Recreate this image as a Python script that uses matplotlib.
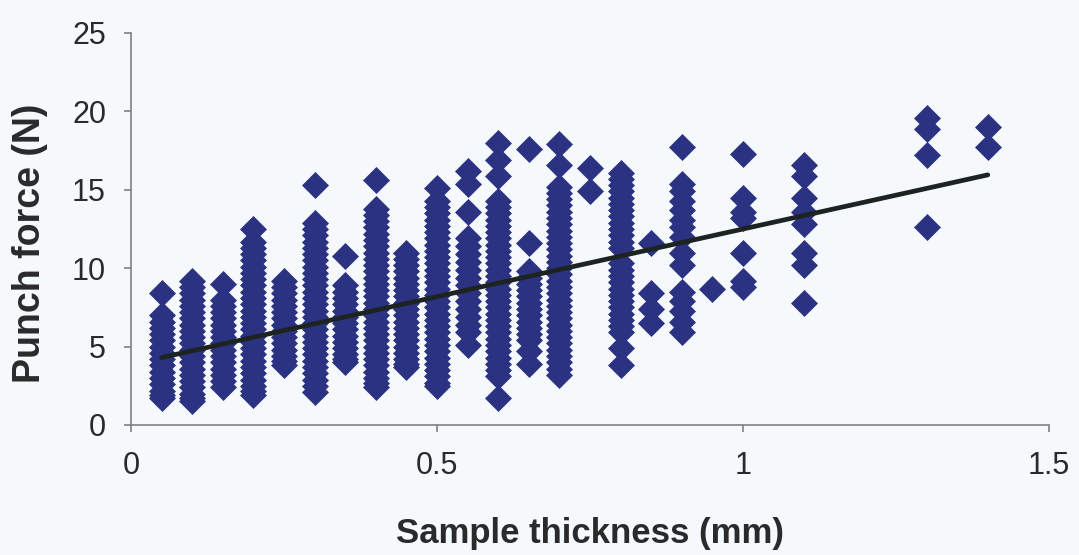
import numpy as np
import matplotlib
matplotlib.use("Agg")
import matplotlib.pyplot as plt

# Punch force readings (N) grouped by sample thickness (mm)
thickness_mm = [0.05, 0.10, 0.15, 0.20, 0.25, 0.30, 0.35, 0.40, 0.45, 0.50,
                0.55, 0.60, 0.65, 0.70, 0.75, 0.80, 0.85, 0.90, 0.95, 1.00,
                1.10, 1.30, 1.40]

f_005 = [8.4, 7.0, 6.6, 6.2, 5.8, 5.4, 5.0, 4.6, 4.2, 3.8, 3.4, 3.0, 2.6, 2.2, 1.9, 1.7]
f_010 = [9.2, 8.8, 8.4, 8.0, 7.6, 7.2, 6.8, 6.4, 6.0, 5.6, 5.2, 4.8, 4.4, 4.0, 3.6, 3.2,
         2.8, 2.4, 2.0, 1.7, 1.5]
f_015 = [9.0, 8.0, 7.6, 7.2, 6.8, 6.4, 6.0, 5.6, 5.2, 4.8, 4.4, 4.0, 3.6, 3.2, 2.8, 2.4]
f_020 = [12.5, 11.7, 11.3, 10.9, 10.5, 10.1, 9.7, 9.3, 8.9, 8.5, 8.1, 7.7, 7.3, 6.9, 6.5,
         6.1, 5.7, 5.3, 4.9, 4.5, 4.1, 3.7, 3.3, 2.9, 2.5, 2.2, 1.9]
f_025 = [9.2, 8.8, 8.4, 8.0, 7.6, 7.2, 6.8, 6.4, 6.0, 5.6, 5.2, 4.8, 4.4, 4.1, 3.8]
f_030 = [15.3, 12.9, 12.5, 12.1, 11.7, 11.3, 10.9, 10.5, 10.1, 9.7, 9.3, 8.9, 8.5, 8.1,
         7.7, 7.3, 6.9, 6.5, 6.1, 5.7, 5.3, 4.9, 4.5, 4.1, 3.7, 3.3, 2.9, 2.5, 2.1]
f_035 = [10.8, 8.9, 8.5, 8.1, 7.7, 7.3, 6.9, 6.5, 6.1, 5.7, 5.3, 4.9, 4.5, 4.2, 4.0]
f_040 = [15.6, 13.8, 13.4, 13.0, 12.6, 12.2, 11.8, 11.4, 11.0, 10.6, 10.2, 9.8, 9.4, 9.0,
         8.6, 8.2, 7.8, 7.4, 7.0, 6.6, 6.2, 5.8, 5.4, 5.0, 4.6, 4.2, 3.8, 3.4, 3.0, 2.7, 2.4]
f_045 = [11.0, 10.6, 10.2, 9.8, 9.4, 9.0, 8.6, 8.2, 7.8, 7.4, 7.0, 6.6, 6.2, 5.8, 5.4,
         5.0, 4.6, 4.2, 3.9, 3.7]
f_050 = [15.1, 14.3, 13.9, 13.5, 13.1, 12.7, 12.3, 11.9, 11.5, 11.1, 10.7, 10.3, 9.9, 9.5,
         9.1, 8.7, 8.3, 7.9, 7.5, 7.1, 6.7, 6.3, 5.9, 5.5, 5.1, 4.7, 4.3, 3.9, 3.5, 3.1,
         2.7, 2.5]
f_055 = [16.2, 15.4, 13.6, 11.9, 11.4, 10.9, 10.4, 9.9, 9.4, 8.9, 8.4, 7.9, 7.4, 6.9, 6.4,
         5.9, 5.1]
f_060 = [18.0, 16.9, 15.9, 14.3, 13.9, 13.5, 13.1, 12.7, 12.3, 11.9, 11.5, 11.1, 10.7,
         10.3, 9.9, 9.5, 9.1, 8.7, 8.3, 7.9, 7.5, 7.1, 6.7, 6.3, 5.9, 5.5, 5.1, 4.7, 4.3,
         3.9, 3.5, 3.1, 1.7]
f_065 = [17.6, 11.6, 9.8, 9.4, 9.0, 8.6, 8.2, 7.8, 7.4, 7.0, 6.6, 6.2, 5.8, 5.4, 4.7, 3.9]
f_070 = [17.9, 16.6, 15.2, 14.8, 14.4, 14.0, 13.6, 13.2, 12.8, 12.4, 12.0, 11.6, 11.2,
         10.8, 10.4, 10.0, 9.6, 9.2, 8.8, 8.4, 8.0, 7.6, 7.2, 6.8, 6.4, 6.0, 5.6, 5.2,
         4.8, 4.4, 4.0, 3.6, 3.2]
f_075 = [16.4, 14.9]
f_080 = [16.1, 15.7, 15.3, 14.9, 14.5, 14.1, 13.7, 13.3, 12.9, 12.5, 12.1, 11.7, 11.3,
         10.3, 9.9, 9.5, 9.1, 8.7, 8.3, 7.9, 7.5, 7.1, 6.7, 6.3, 5.9, 4.9, 3.8]
f_085 = [11.6, 8.4, 7.4, 6.5]
f_090 = [17.7, 15.4, 14.9, 14.3, 13.7, 13.1, 12.6, 12.0, 11.0, 10.2, 8.5, 7.9, 7.3, 6.6, 5.9]
f_095 = [8.7]
f_100 = [17.3, 14.5, 13.6, 13.2, 11.0, 9.2, 8.8]
f_110 = [16.6, 15.9, 14.5, 13.6, 12.8, 11.0, 10.2, 7.8]
f_130 = [19.6, 18.9, 17.2, 12.6]
f_140 = [19.0, 17.7]

force_groups = [f_005, f_010, f_015, f_020, f_025, f_030, f_035, f_040, f_045, f_050,
                f_055, f_060, f_065, f_070, f_075, f_080, f_085, f_090, f_095, f_100,
                f_110, f_130, f_140]

# Linear trend line: force = slope * thickness + intercept
trend_slope = 8.63
trend_intercept = 3.87

x_ticks = [0, 0.5, 1, 1.5]
x_tick_labels = ["0", "0.5", "1", "1.5"]
y_ticks = [0, 5, 10, 15, 20, 25]

plt.rcParams["font.family"] = ["Liberation Sans", "DejaVu Sans"]

bg = "#f5f9fc"
fig = plt.figure(figsize=(10.79, 5.55), dpi=100, facecolor=bg)
ax = fig.add_axes([131 / 1079, 1 - 425 / 555, 918 / 1079, 392 / 555])
ax.set_facecolor(bg)

xs = np.concatenate([[t] * len(g) for t, g in zip(thickness_mm, force_groups)])
ys = np.concatenate([np.asarray(g, dtype=float) for g in force_groups])

ax.plot(xs, ys, linestyle="none", marker="D", markersize=13,
        markerfacecolor="#2b3282", markeredgecolor="#2b3282", markeredgewidth=0.5,
        zorder=3)

tx = np.array([min(thickness_mm), max(thickness_mm)])
ax.plot(tx, trend_slope * tx + trend_intercept, color="#1d2320", linewidth=3.4,
        solid_capstyle="round", zorder=4)

ax.set_xlim(0, 1.5)
ax.set_ylim(0, 25)
ax.set_xticks(x_ticks)
ax.set_xticklabels(x_tick_labels)
ax.set_yticks(y_ticks)

for side in ("top", "right"):
    ax.spines[side].set_visible(False)
for side in ("left", "bottom"):
    ax.spines[side].set_color("#808080")
    ax.spines[side].set_linewidth(1.2)

ax.tick_params(axis="both", direction="out", length=5, width=1.2, color="#808080",
               labelsize=22, labelcolor="#2a2a2a")
ax.tick_params(axis="x", pad=14)
ax.tick_params(axis="y", pad=13)

ax.set_xlabel("Sample thickness (mm)", fontsize=25, fontweight="bold",
              color="#2a2a2a")
ax.set_ylabel("Punch force (N)", fontsize=27, fontweight="bold",
              color="#2a2a2a")
ax.xaxis.set_label_coords(0.5, -0.235)
ax.yaxis.set_label_coords(-0.09, 0.464)

fig.savefig("out.png", dpi=100, facecolor=bg)
